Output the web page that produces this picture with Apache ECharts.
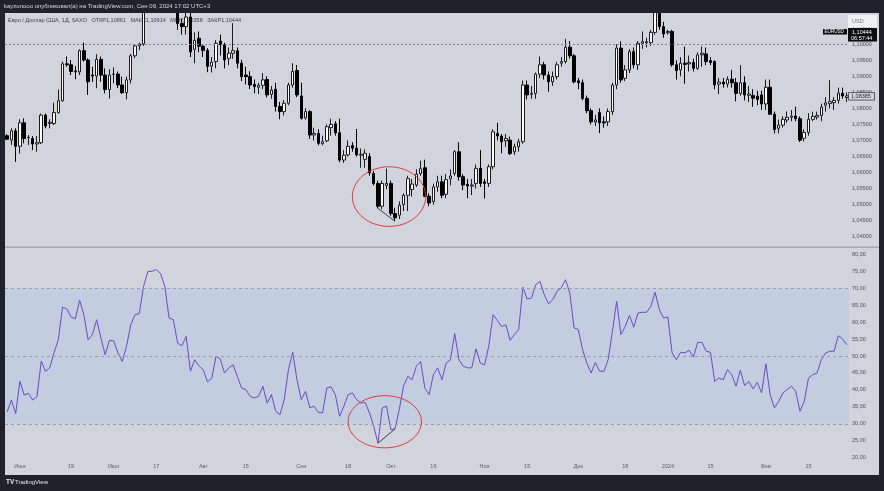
<!DOCTYPE html>
<html>
<head>
<meta charset="utf-8">
<script src="https://cdn.jsdelivr.net/npm/echarts/dist/echarts.min.js"></script>
<style>
  html, body { margin: 0; padding: 0; background: #1f222b; }
  #chart { width: 884px; height: 491px; }
</style>
</head>
<body>
<div id="chart"></div>
<script>
// daily EUR/USD bars, [open, close, low, high], from 2023-05-29 on weekdays
const candles = [
  [1.0715,1.0704,1.0701,1.0720],[1.0701,1.0730,1.0686,1.0738],[1.0730,1.0682,1.0633,1.0738],[1.0682,1.0755,1.0659,1.0766],[1.0755,1.0706,1.0691,1.0769],
  [1.0709,1.0710,1.0686,1.0717],[1.0706,1.0689,1.0670,1.0714],[1.0689,1.0693,1.0665,1.0714],[1.0693,1.0779,1.0689,1.0784],[1.0779,1.0745,1.0738,1.0784],
  [1.0753,1.0757,1.0738,1.0766],[1.0753,1.0787,1.0748,1.0818],[1.0787,1.0824,1.0784,1.0859],[1.0824,1.0939,1.0821,1.0946],[1.0939,1.0936,1.0930,1.0962],
  [1.0936,1.0915,1.0904,1.0951],[1.0917,1.0914,1.0891,1.0932],[1.0914,1.0980,1.0904,1.0984],[1.0980,1.0951,1.0946,1.1005],[1.0951,1.0883,1.0842,1.0956],
  [1.0904,1.0901,1.0883,1.0930],[1.0901,1.0953,1.0863,1.0969],[1.0953,1.0904,1.0883,1.0962],[1.0904,1.0859,1.0847,1.0925],[1.0859,1.0904,1.0831,1.0922],
  [1.0906,1.0907,1.0878,1.0928],[1.0907,1.0873,1.0863,1.0915],[1.0873,1.0849,1.0845,1.0899],[1.0849,1.0889,1.0828,1.0899],[1.0889,1.0964,1.0878,1.0970],
  [1.0964,1.0995,1.0957,1.0998],[1.0995,1.1001,1.0982,1.1005],[1.1001,1.1128,1.0995,1.1140],[1.1128,1.1223,1.1116,1.1245],[1.1223,1.1229,1.1185,1.1244],
  [1.1229,1.1235,1.1200,1.1250],[1.1235,1.1228,1.1200,1.1276],[1.1228,1.1200,1.1180,1.1240],[1.1200,1.1130,1.1120,1.1210],[1.1130,1.1124,1.1100,1.1150],
  [1.1124,1.1065,1.1045,1.1150],[1.1065,1.1055,1.1030,1.1080],[1.1055,1.1085,1.1030,1.1149],[1.1085,1.0976,1.0960,1.1149],[1.0984,1.1012,1.0941,1.1037],
  [1.1019,1.0994,1.0975,1.1040],[1.0994,1.0981,1.0960,1.1000],[1.0981,1.0931,1.0913,1.0988],[1.0932,1.0944,1.0912,1.0960],[1.0946,1.1003,1.0925,1.1013],
  [1.1010,1.0998,1.0965,1.1030],[1.0998,1.0951,1.0925,1.1005],[1.0956,1.0972,1.0935,1.0990],[1.0972,1.0980,1.0955,1.1066],[1.0980,1.0941,1.0925,1.0990],
  [1.0941,1.0899,1.0885,1.0952],[1.0904,1.0899,1.0875,1.0930],[1.0899,1.0873,1.0860,1.0916],[1.0875,1.0868,1.0847,1.0890],[1.0866,1.0872,1.0845,1.0880],
  [1.0872,1.0889,1.0860,1.0910],[1.0890,1.0842,1.0834,1.0900],[1.0844,1.0857,1.0830,1.0870],[1.0860,1.0806,1.0790,1.0880],[1.0806,1.0790,1.0766,1.0820],
  [1.0790,1.0816,1.0778,1.0826],[1.0816,1.0873,1.0810,1.0880],[1.0873,1.0915,1.0865,1.0941],[1.0918,1.0842,1.0835,1.0935],[1.0839,1.0769,1.0765,1.0880],
  [1.0770,1.0790,1.0765,1.0800],[1.0790,1.0717,1.0705,1.0795],[1.0717,1.0722,1.0700,1.0740],[1.0722,1.0691,1.0685,1.0735],[1.0690,1.0696,1.0685,1.0715],
  [1.0699,1.0743,1.0695,1.0750],[1.0740,1.0750,1.0715,1.0768],[1.0752,1.0724,1.0715,1.0760],[1.0724,1.0639,1.0632,1.0768],[1.0639,1.0654,1.0630,1.0670],
  [1.0655,1.0682,1.0650,1.0700],[1.0684,1.0676,1.0665,1.0695],[1.0676,1.0655,1.0650,1.0736],[1.0654,1.0657,1.0615,1.0675],[1.0641,1.0660,1.0615,1.0672],
  [1.0650,1.0599,1.0590,1.0660],[1.0597,1.0566,1.0560,1.0605],[1.0566,1.0495,1.0488,1.0575],[1.0495,1.0566,1.0485,1.0575],[1.0560,1.0566,1.0548,1.0612],
  [1.0566,1.0472,1.0465,1.0575],[1.0472,1.0459,1.0448,1.0490],[1.0467,1.0498,1.0455,1.0510],[1.0500,1.0529,1.0480,1.0535],[1.0529,1.0581,1.0480,1.0590],
  [1.0547,1.0564,1.0525,1.0580],[1.0561,1.0595,1.0555,1.0610],[1.0597,1.0612,1.0590,1.0637],[1.0615,1.0526,1.0524,1.0640],[1.0526,1.0505,1.0495,1.0535],
  [1.0510,1.0555,1.0500,1.0565],[1.0555,1.0571,1.0540,1.0590],[1.0571,1.0529,1.0520,1.0590],[1.0532,1.0578,1.0520,1.0595],[1.0581,1.0589,1.0560,1.0610],
  [1.0597,1.0665,1.0590,1.0670],[1.0665,1.0587,1.0575,1.0694],[1.0587,1.0561,1.0545,1.0595],[1.0563,1.0558,1.0520,1.0580],[1.0558,1.0561,1.0530,1.0580],
  [1.0566,1.0613,1.0550,1.0625],[1.0613,1.0566,1.0555,1.0670],[1.0571,1.0566,1.0519,1.0580],[1.0566,1.0618,1.0555,1.0625],[1.0618,1.0727,1.0610,1.0735],
  [1.0722,1.0714,1.0700,1.0755],[1.0714,1.0696,1.0660,1.0720],[1.0699,1.0706,1.0680,1.0720],[1.0701,1.0659,1.0655,1.0712],[1.0665,1.0680,1.0655,1.0690],
  [1.0680,1.0696,1.0665,1.0705],[1.0696,1.0873,1.0690,1.0887],[1.0873,1.0842,1.0828,1.0887],[1.0844,1.0847,1.0830,1.0870],[1.0847,1.0907,1.0830,1.0912],
  [1.0907,1.0936,1.0895,1.0962],[1.0936,1.0904,1.0890,1.0945],[1.0904,1.0883,1.0852,1.0915],[1.0883,1.0899,1.0870,1.0915],[1.0899,1.0936,1.0890,1.0945],
  [1.0941,1.0946,1.0930,1.0960],[1.0946,1.0991,1.0940,1.1017],[1.0991,1.0964,1.0955,1.1010],[1.0964,1.0883,1.0878,1.0970],[1.0886,1.0880,1.0860,1.0895],
  [1.0880,1.0831,1.0825,1.0890],[1.0831,1.0793,1.0785,1.0840],[1.0793,1.0758,1.0750,1.0800],[1.0758,1.0764,1.0745,1.0780],[1.0787,1.0755,1.0723,1.0800],
  [1.0758,1.0755,1.0740,1.0775],[1.0758,1.0790,1.0745,1.0800],[1.0790,1.0873,1.0780,1.0880],[1.0873,1.0988,1.0860,1.1000],[1.0988,1.0889,1.0880,1.1009],
  [1.0894,1.0920,1.0885,1.0935],[1.0920,1.0977,1.0910,1.0985],[1.0977,1.0936,1.0925,1.0990],[1.0936,1.1003,1.0920,1.1010],[1.1003,1.1008,1.0985,1.1040],
  [1.1005,1.1008,1.0990,1.1020],[1.1005,1.1037,1.0995,1.1045],[1.1037,1.1105,1.1030,1.1140],[1.1105,1.1055,1.1045,1.1130],[1.1055,1.1032,1.1020,1.1070],
  [1.1036,1.1040,1.1030,1.1045],[1.1040,1.0936,1.0930,1.1045],[1.0936,1.0918,1.0890,1.0950],[1.0920,1.0941,1.0900,1.0960],[1.0941,1.0937,1.0877,1.0993],
  [1.0939,1.0943,1.0915,1.0965],[1.0943,1.0925,1.0915,1.0955],[1.0925,1.0967,1.0920,1.0975],[1.0967,1.0972,1.0930,1.0993],[1.0970,1.0946,1.0935,1.0990],
  [1.0949,1.0943,1.0935,1.0960],[1.0946,1.0873,1.0860,1.0950],[1.0876,1.0882,1.0845,1.0895],[1.0882,1.0876,1.0865,1.0895],[1.0876,1.0891,1.0865,1.0900],
  [1.0891,1.0880,1.0865,1.0920],[1.0880,1.0847,1.0822,1.0895],[1.0847,1.0880,1.0840,1.0935],[1.0880,1.0842,1.0825,1.0900],[1.0841,1.0845,1.0820,1.0870],
  [1.0840,1.0832,1.0805,1.0860],[1.0838,1.0828,1.0810,1.0855],[1.0842,1.0814,1.0795,1.0855],[1.0814,1.0866,1.0795,1.0890],[1.0866,1.0782,1.0780,1.0890],
  [1.0782,1.0734,1.0722,1.0790],[1.0738,1.0748,1.0722,1.0765],[1.0748,1.0766,1.0740,1.0775],[1.0764,1.0772,1.0755,1.0790],[1.0772,1.0776,1.0760,1.0795],
  [1.0776,1.0768,1.0760,1.0805],[1.0768,1.0701,1.0695,1.0775],[1.0707,1.0725,1.0697,1.0735],[1.0725,1.0766,1.0715,1.0785],[1.0766,1.0775,1.0760,1.0790],
  [1.0773,1.0778,1.0765,1.0790],[1.0778,1.0804,1.0760,1.0815],[1.0810,1.0817,1.0790,1.0835],[1.0815,1.0821,1.0800,1.0888],[1.0818,1.0825,1.0795,1.0835],
  [1.0825,1.0848,1.0815,1.0865],[1.0847,1.0839,1.0830,1.0865],[1.0834,1.0839,1.0820,1.0850]
];

const rsi = [
  33.5,37.0,33.0,42.5,38.5,39.0,37.0,38.0,48.5,45.5,
  46.5,51.0,54.8,64.4,63.9,61.5,61.0,66.4,62.2,54.8,
  56.3,60.7,55.3,50.4,54.6,54.5,50.9,48.4,52.8,59.2,
  62.2,62.5,70.5,74.9,75.0,75.5,74.3,70.5,61.2,60.7,
  53.8,53.0,55.8,45.5,48.9,47.1,45.9,42.4,43.4,49.9,
  49.1,45.0,46.5,47.4,44.0,40.6,40.1,38.1,37.6,38.1,
  41.1,36.1,38.6,33.7,32.7,37.1,46.0,51.1,43.0,37.1,
  39.6,34.7,35.2,33.4,33.2,40.6,40.9,38.6,32.2,35.2,
  38.6,39.1,37.1,36.1,36.3,33.2,29.3,24.3,34.7,35.2,
  28.3,28.5,34.2,41.1,44.0,43.0,47.0,48.4,40.5,38.6,
  44.5,46.5,43.0,47.9,48.9,56.6,48.9,47.0,46.5,46.5,
  52.1,47.9,47.4,52.9,62.2,60.5,58.7,59.2,54.6,56.3,
  57.8,70.3,66.8,67.1,71.0,72.0,68.1,65.4,66.6,69.1,
  70.1,72.5,68.6,58.3,57.8,51.9,47.9,45.0,48.1,45.5,
  45.5,48.9,57.3,66.1,56.3,58.7,62.0,58.5,62.7,62.9,
  62.9,64.6,68.8,63.7,61.2,61.5,50.9,48.9,51.1,50.9,
  51.7,49.7,54.0,54.0,51.4,51.1,42.5,43.5,43.0,46.0,
  44.5,41.1,45.8,41.3,42.5,40.3,42.2,39.1,47.7,38.6,
  34.7,36.6,39.1,40.1,41.1,39.6,33.7,36.6,43.5,44.5,
  45.0,48.9,50.9,51.4,51.4,56.0,55.0,53.3
];

const tickDates = ['2023-06-01','2023-06-19','2023-07-03','2023-07-17','2023-08-01','2023-08-15','2023-09-01','2023-09-18','2023-10-02',
  '2023-10-16','2023-11-01','2023-11-15','2023-12-01','2023-12-18','2024-01-01','2024-01-15','2024-02-01','2024-02-15'];
const tickLabels = ['Июн','19','Июл','17','Авг','15','Сен','18','Окт','16','Ноя','15','Дек','18','2024','15','Фев','15'];

const livePrice = 1.10444;
const lastClose = 1.08385;
const rsiLevels = [70, 50, 30];
const rsiBand = [30, 70];

// hand drawn marks on the picture
const priceDivergence = [[87, 1.0488], [91, 1.0448]];
const rsiDivergence = [[87, 24.3], [91, 28.5]];
const priceCircle = { center: [89.6, 1.0525], halfBars: 8.6, halfValue: 0.0093 };
const rsiCircle = { center: [88.6, 30.6], halfBars: 8.6, halfValue: 7.7 };

const headerText = 'kayzonooo опубликовал(а) на TradingView.com, Сен 09, 2024 17:02 UTC+3';
const legendText = 'Евро / Доллар США, 1Д, SAXO   ОТКР1,10861   МАКС1,10914   МИН1,10358   ЗАКР1,10444';

// weekday calendar starting 2023-05-29
const dates = [];
for (let d = new Date(Date.UTC(2023, 4, 29)); dates.length < candles.length; d.setUTCDate(d.getUTCDate() + 1)) {
  const wd = d.getUTCDay();
  if (wd !== 0 && wd !== 6) dates.push(d.toISOString().slice(0, 10));
}

const FONT = 'Liberation Sans, Arial, sans-serif';
const PANEL = '#d1d4dc';
const FRAME = '#1f222b';
const fmtComma = (v, n) => v.toFixed(n).replace('.', ',');

const chart = echarts.init(document.getElementById('chart'));

const option = {
  animation: false,
  backgroundColor: FRAME,
  textStyle: { fontFamily: FONT },
  grid: [
    { left: 5, right: 35, top: 12.2, height: 240.5 },
    { left: 5, right: 35, top: 254.3, height: 203.4 }
  ],
  xAxis: [
    { type: 'category', gridIndex: 0, data: dates, show: false },
    {
      type: 'category', gridIndex: 1, data: dates,
      axisLine: { show: false }, axisTick: { show: false }, splitLine: { show: false },
      axisLabel: {
        color: '#5d606b', fontSize: 5.5, margin: 6,
        interval: (i, v) => tickDates.includes(v),
        formatter: v => tickLabels[tickDates.indexOf(v)] || ''
      }
    }
  ],
  yAxis: [
    {
      gridIndex: 0, position: 'right', min: 1.035, max: 1.11, interval: 0.005,
      axisLine: { show: false }, axisTick: { show: false }, splitLine: { show: false },
      axisLabel: { color: '#4e515c', fontSize: 5.5, margin: 3, showMinLabel: false, showMaxLabel: false,
        formatter: v => fmtComma(v, 5) }
    },
    {
      gridIndex: 1, position: 'right', min: 20, max: 80, interval: 5,
      axisLine: { show: false }, axisTick: { show: false }, splitLine: { show: false },
      axisLabel: { color: '#4e515c', fontSize: 5.5, margin: 3, formatter: v => fmtComma(v, 2) }
    }
  ],
  series: [
    {
      name: 'EURUSD', type: 'candlestick', xAxisIndex: 0, yAxisIndex: 0,
      data: candles, barWidth: 3, clip: true, z: 3,
      itemStyle: { color: '#ffffff', color0: '#000000', borderColor: '#1b1b1b', borderColor0: '#000000', borderWidth: 1 },
      markLine: {
        silent: true, symbol: 'none', label: { show: false },
        data: [
          { yAxis: livePrice, lineStyle: { color: '#80838d', type: [2, 2], width: 1 } },
          [
            { coord: [dates[priceDivergence[0][0]], priceDivergence[0][1]], lineStyle: { color: '#3a3d45', type: 'solid', width: 1 } },
            { coord: [dates[priceDivergence[1][0]], priceDivergence[1][1]] }
          ]
        ]
      }
    },
    {
      name: 'RSI', type: 'line', xAxisIndex: 1, yAxisIndex: 1,
      data: rsi, symbol: 'none', z: 3,
      lineStyle: { color: '#6a4bc4', width: 1 },
      markArea: {
        silent: true,
        itemStyle: { color: '#c2cde0' },
        data: [[{ yAxis: rsiBand[0] }, { yAxis: rsiBand[1] }]]
      },
      markLine: {
        silent: true, symbol: 'none', label: { show: false },
        data: rsiLevels.map(v => ({ yAxis: v, lineStyle: { color: '#9a9da7', type: [3, 3], width: 1 } })).concat([[
          { coord: [dates[rsiDivergence[0][0]], rsiDivergence[0][1]], lineStyle: { color: '#3a3d45', type: 'solid', width: 1 } },
          { coord: [dates[rsiDivergence[1][0]], rsiDivergence[1][1]] }
        ]])
      }
    }
  ]
};

chart.setOption(option);

// pixel position of a (fractional) bar index and value on a grid
const toPx = (g, idx, val) => {
  const i0 = Math.floor(idx);
  const a = chart.convertToPixel({ gridIndex: g }, [i0, val]);
  const b = chart.convertToPixel({ gridIndex: g }, [i0 + 1, val]);
  return [a[0] + (b[0] - a[0]) * (idx - i0), a[1]];
};
const ellipseFor = (g, c) => {
  const p = toPx(g, c.center[0], c.center[1]);
  const r = toPx(g, c.center[0] + c.halfBars, c.center[1] + c.halfValue);
  return {
    type: 'ellipse', z: 50,
    shape: { cx: p[0], cy: p[1], rx: Math.abs(r[0] - p[0]), ry: Math.abs(r[1] - p[1]) },
    style: { fill: null, stroke: '#e0383c', lineWidth: 1 }
  };
};

const yLive = toPx(0, 0, livePrice)[1];
const yClose = toPx(0, 0, lastClose)[1];

chart.setOption({
  graphic: { elements: [
    // light chart panel behind everything
    { type: 'rect', z: -10, shape: { x: 5, y: 13, width: 874, height: 462 }, style: { fill: PANEL } },
    // dark header strip over anything that pokes above the pane
    { type: 'rect', z: 40, shape: { x: 0, y: 0, width: 884, height: 13 }, style: { fill: FRAME } },
    { type: 'rect', z: 1, shape: { x: 5, y: 246.5, width: 874, height: 1.5 }, style: { fill: '#a4a7b0' } },
    { type: 'text', z: 41, left: 4, top: 3, style: { text: headerText, fill: '#d6d9e0', font: '6px ' + FONT } },
    { type: 'text', z: 1, left: 8, top: 17, style: { text: legendText, fill: '#3f424b', font: '5.5px ' + FONT } },
    // price scale tags
    { type: 'rect', z: 60, shape: { x: 848, y: 15, width: 29, height: 12.5 }, style: { fill: '#eef0f4' } },
    { type: 'text', z: 61, left: 852, top: 18.5, style: { text: 'USD', fill: '#6d707a', font: '5.5px ' + FONT } },
    { type: 'rect', z: 60, shape: { x: 823, y: yLive - 1, width: 24, height: 5.5 }, style: { fill: '#0c0d10' } },
    { type: 'text', z: 61, left: 824.5, top: yLive - 0.6, style: { text: 'EURUSD', fill: '#ffffff', font: '4.6px ' + FONT } },
    { type: 'rect', z: 60, shape: { x: 848, y: yLive - 2, width: 29, height: 13.5 }, style: { fill: '#0c0d10' } },
    { type: 'text', z: 61, left: 852, top: yLive - 1, style: { text: fmtComma(livePrice, 5), fill: '#ffffff', font: '5.5px ' + FONT } },
    { type: 'text', z: 61, left: 851, top: yLive + 5, style: { text: '06:57:44', fill: '#ffffff', font: '5.5px ' + FONT } },
    { type: 'rect', z: 60, shape: { x: 848.5, y: yClose - 3.5, width: 26, height: 7.5 }, style: { fill: PANEL, stroke: '#3b3e46', lineWidth: 0.8 } },
    { type: 'text', z: 61, left: 851, top: yClose - 3, style: { text: fmtComma(lastClose, 5), fill: '#2a2d34', font: '5.5px ' + FONT } },
    // hand drawn ellipses
    ellipseFor(0, priceCircle),
    ellipseFor(1, rsiCircle),
    // footer logo
    { type: 'text', z: 1, left: 6, top: 478.5, style: { text: 'TV', fill: '#e6e8ee', font: 'bold 6.5px ' + FONT } },
    { type: 'text', z: 1, left: 15, top: 479, style: { text: 'TradingView', fill: '#e6e8ee', font: '6px ' + FONT } }
  ] }
});
</script>
</body>
</html>
